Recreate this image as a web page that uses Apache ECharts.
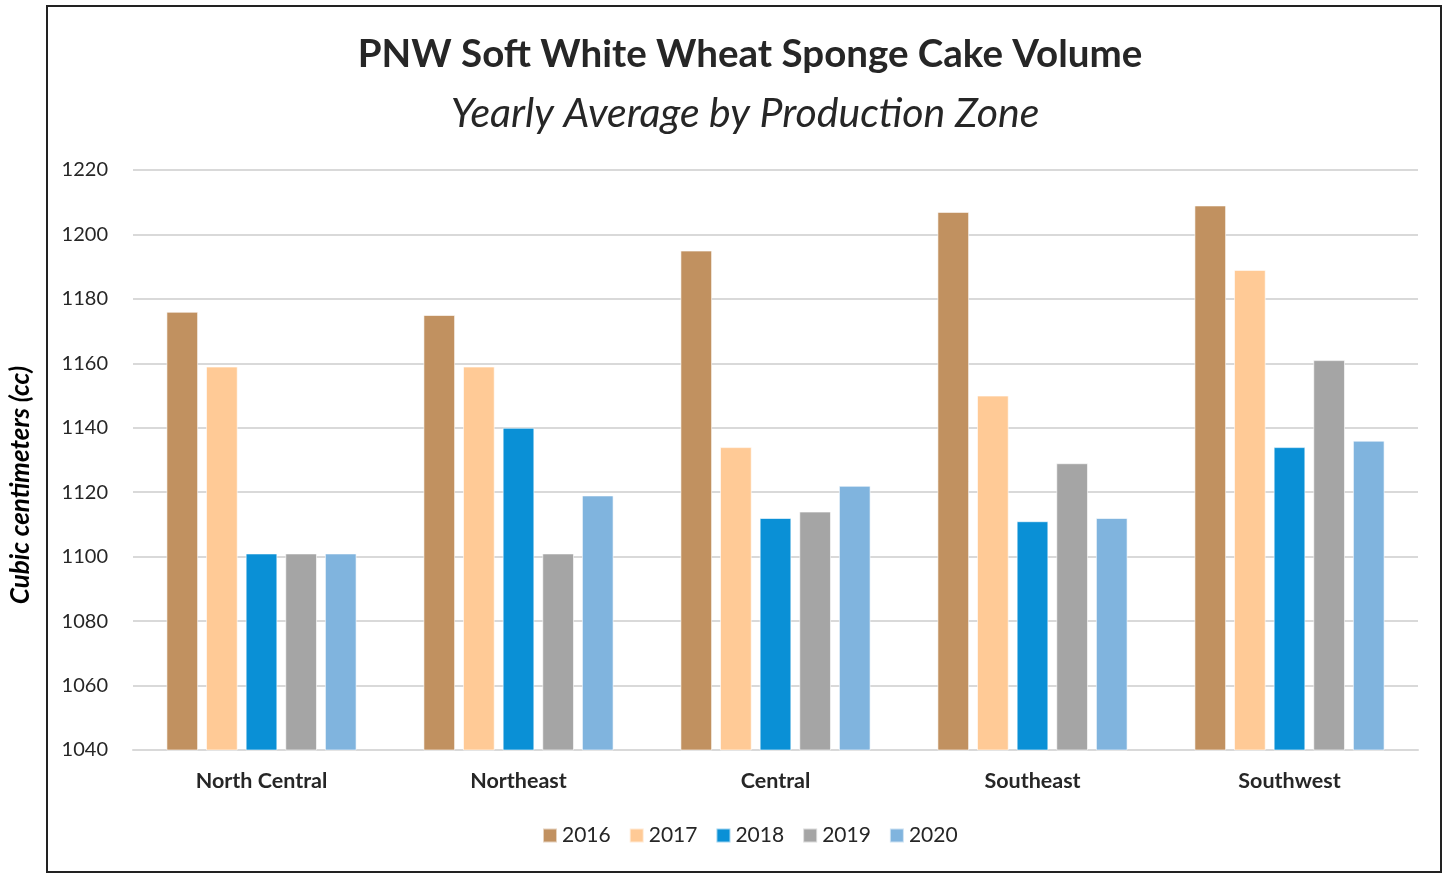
<!DOCTYPE html>
<html>
<head>
<meta charset="utf-8">
<script src="https://cdn.jsdelivr.net/npm/echarts@6/dist/echarts.min.js"></script>
<style>
  html, body { margin: 0; padding: 0; background: #fff; }
  #frame { position: absolute; left: 46px; top: 5px; width: 1396px; height: 868px; border: 2px solid #222; box-sizing: border-box; }
  #chart { position: absolute; left: 0; top: 0; width: 1453px; height: 877px; }
</style>
</head>
<body>
<div id="frame"></div>
<div id="chart"></div>
<script>
var zones = ['North Central', 'Northeast', 'Central', 'Southeast', 'Southwest']
var years = ['2016', '2017', '2018', '2019', '2020']
var colors = ['#c19160', '#ffca96', '#0a90d6', '#a5a5a5', '#80b4de']
var v2016 = [1176, 1175, 1195, 1207, 1209]
var v2017 = [1159, 1159, 1134, 1150, 1189]
var v2018 = [1101, 1140, 1112, 1111, 1134]
var v2019 = [1101, 1101, 1114, 1129, 1161]
var v2020 = [1101, 1119, 1122, 1112, 1136]
var values = [v2016, v2017, v2018, v2019, v2020]

var font = 'Lato, "Open Sans", sans-serif'
var chart = echarts.init(document.getElementById('chart'))
chart.setOption({
  animation: false,
  textStyle: { fontFamily: font, color: '#262626' },
  title: [
    { text: 'PNW Soft White Wheat Sponge Cake Volume', left: 745, top: 30, textAlign: 'center',
      textStyle: { fontSize: 38.5, fontWeight: 'bold', color: '#262626', fontFamily: font } },
    { text: 'Yearly Average by Production Zone', left: 740, top: 88, textAlign: 'center',
      textStyle: { fontSize: 41, fontStyle: 'italic', fontWeight: 'normal', color: '#262626', fontFamily: font } }
  ],
  // y axis title, placed like the original (a bit below the plot's middle)
  graphic: [{
    type: 'text',
    x: 21,
    y: 485,
    rotation: Math.PI / 2,
    style: {
      text: 'Cubic centimeters (cc)',
      fill: '#000',
      font: 'italic bold 26px ' + font,
      align: 'center',
      verticalAlign: 'middle'
    }
  }],
  legend: {
    data: years,
    top: 820,
    left: 537,
    itemWidth: 14,
    itemHeight: 14,
    itemGap: 18,
    icon: 'rect',
    textStyle: { fontSize: 21, color: '#262626', fontFamily: font }
  },
  grid: { left: 133, right: 35, top: 170, bottom: 127 },
  xAxis: {
    type: 'category',
    data: zones,
    axisTick: { show: false },
    axisLine: { lineStyle: { color: '#d9d9d9', width: 2 } },
    axisLabel: { fontSize: 21.5, fontWeight: 'bold', color: '#262626', margin: 20 }
  },
  yAxis: {
    type: 'value',
    min: 1040,
    max: 1220,
    interval: 20,
    axisLabel: { fontSize: 20, color: '#262626', margin: 25, formatter: function (v) { return String(v) } },
    splitLine: { lineStyle: { color: '#d9d9d9', width: 2 } }
  },
  series: years.map(function (y, i) {
    return {
      name: y,
      type: 'bar',
      data: values[i],
      barGap: '25%',
      barCategoryGap: '26%',
      itemStyle: { color: colors[i], borderColor: 'rgba(255,255,255,0.6)', borderWidth: 1 }
    }
  })
})
</script>
</body>
</html>
